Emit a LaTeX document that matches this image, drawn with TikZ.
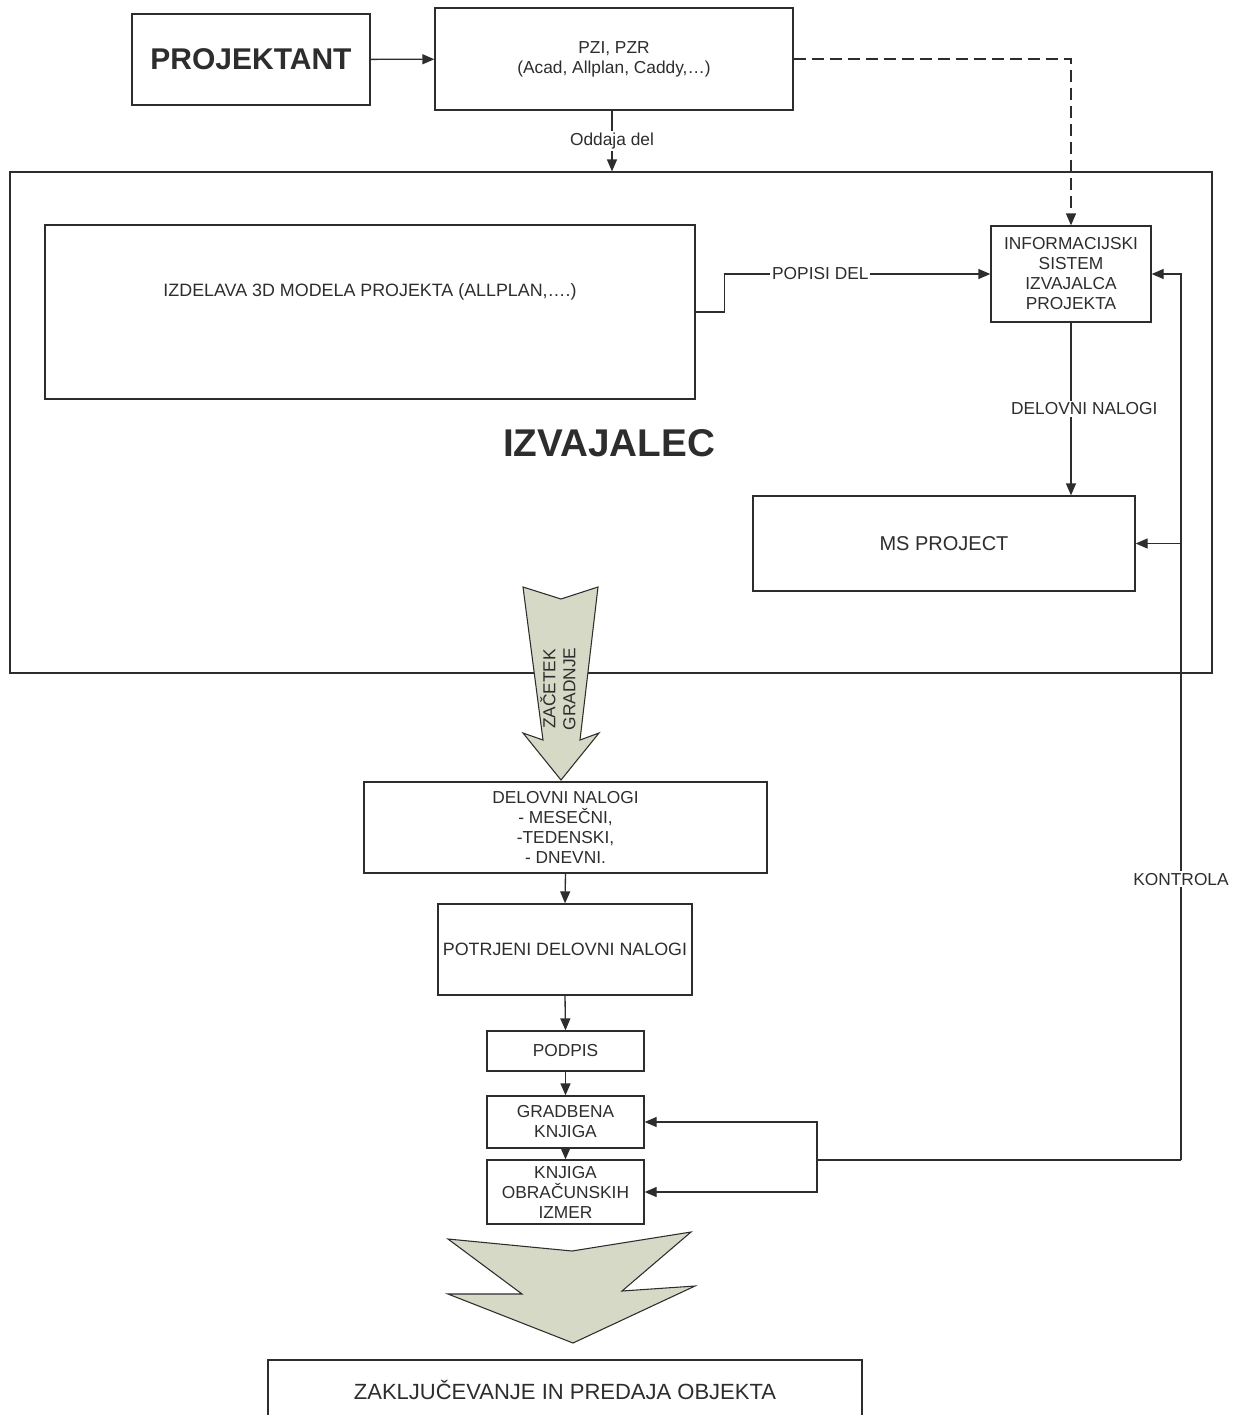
\documentclass[tikz,border=0pt]{standalone}
\usepackage{fontspec}
\setmainfont{Liberation Sans}
\usetikzlibrary{arrows.meta}
\definecolor{ink}{RGB}{45,45,45}
\definecolor{arrowfill}{RGB}{215,217,199}
\tikzset{
  box/.style={draw=ink, line width=1pt, rectangle, inner sep=0pt, align=center,
              text=ink, font=\fontsize{13}{15}\selectfont},
  txt/.style={text=ink, inner sep=1pt, align=center, font=\fontsize{13}{15}\selectfont},
  lbl/.style={txt, fill=white, inner sep=1.5pt},
  conn/.style={draw=ink, line width=1pt},
  arr/.style={conn, -{Triangle[length=9pt,width=7.5pt]}},
  fat/.style={draw=ink, line width=0.8pt, fill=arrowfill, line join=miter}
}
\begin{document}
\begin{tikzpicture}[x=0.75pt, y=-0.75pt]
\clip (0,0) rectangle (1233,1415);
\fill[white] (0,0) rectangle (1233,1415);

% designer and project documentation
\node[box, minimum width=178.5pt, minimum height=68.25pt,
      font=\fontsize{22.5}{26}\bfseries] (proj) at (251,59.5) {PROJEKTANT};
\node[box, minimum width=268.5pt, minimum height=76.5pt] (pzi) at (614,59)
  {PZI, PZR\\(Acad, Allplan, Caddy,\dots)};

% contractor frame
\node[box, minimum width=901.5pt, minimum height=375.75pt, line width=0.9pt] (izv) at (611,422.5) {};
\node[txt, font=\fontsize{29}{32}\bfseries] (izvt) at (609,443) {IZVAJALEC};

\node[box, minimum width=487.5pt, minimum height=130.5pt] (izd) at (370,312) {};
\node[txt, font=\fontsize{13.4}{15}\selectfont] (izdt) at (370,292)
  {IZDELAVA 3D MODELA PROJEKTA (ALLPLAN,\dots.)};

\node[box, minimum width=120pt, minimum height=72pt] (info) at (1071,274)
  {INFORMACIJSKI\\SISTEM\\IZVAJALCA\\PROJEKTA};
\node[box, minimum width=286.5pt, minimum height=71.25pt,
      font=\fontsize{15}{17}\selectfont] (msp) at (944,543.5) {MS PROJECT};

% work order chain
\node[box, minimum width=302.25pt, minimum height=68.25pt] (dn) at (565.5,827.5)
  {DELOVNI NALOGI\\- MESEČNI,\\-TEDENSKI,\\- DNEVNI.};
\node[box, minimum width=190.5pt, minimum height=68.25pt,
      font=\fontsize{13.4}{15}\selectfont] (pot) at (565,949.5)
  {POTRJENI DELOVNI NALOGI};
\node[box, minimum width=117.75pt, minimum height=30pt] (pod) at (565.5,1051) {PODPIS};
\node[box, minimum width=117.75pt, minimum height=39pt] (grad) at (565.5,1122)
  {GRADBENA\\KNJIGA};
\node[box, minimum width=117.75pt, minimum height=48pt] (knj) at (565.5,1192)
  {KNJIGA\\OBRAČUNSKIH\\IZMER};
\node[box, minimum width=445.5pt, minimum height=45pt,
      font=\fontsize{16.5}{19}\selectfont] (zak) at (565,1390)
  {ZAKLJUČEVANJE IN PREDAJA OBJEKTA};

% connectors
\draw[arr] (proj) -- (pzi);
\draw[arr] (pzi.south -| 612,0) -- node[lbl, midway] {Oddaja del} (izv.north -| 612,0);
\draw[arr, dash pattern=on 9pt off 4.5pt] (pzi.east) -- (info.north |- pzi.east) -- (info.north);
\draw[arr] (izd.east) -- ++(29,0) |- node[lbl, pos=0.68] {POPISI DEL} (info.west);
\draw[arr] (info.south) -- node[lbl, midway, xshift=10pt] {DELOVNI NALOGI} (info.south |- msp.north);

\draw[arr] (dn.south) -- (pot.north);
\draw[arr] (pot.south) -- (pod.north);
\draw[arr] (pod.south) -- (grad.north);
\draw[arr] (grad.south) -- (knj.north);

% control feedback loop
\coordinate (k0) at (1181,1160);
\coordinate (kj) at (817,1160);
\draw[conn] (k0) -- (kj);
\draw[arr] (kj) |- (grad.east);
\draw[arr] (kj) |- (knj.east);
\draw[arr] (k0) -- node[lbl, pos=0.317] {KONTROLA} (k0 |- info.east) -- (info.east);
\draw[arr] (k0 |- msp.east) -- (msp.east);

% start of construction arrow
\draw[fat] (523,587) -- (561,599) -- (598,587) -- (580,740) -- (599,733)
  -- (561,780) -- (523,733) -- (543,740) -- cycle;
\node[txt, rotate=90] (zac) at (558,689) {ZAČETEK\\GRADNJE};

% closing arrow
\draw[fat] (448,1239) -- (572,1251) -- (691,1232) -- (622,1291) -- (695,1286)
  -- (573,1343) -- (448,1294) -- (522,1294) -- cycle;
\end{tikzpicture}
\end{document}
